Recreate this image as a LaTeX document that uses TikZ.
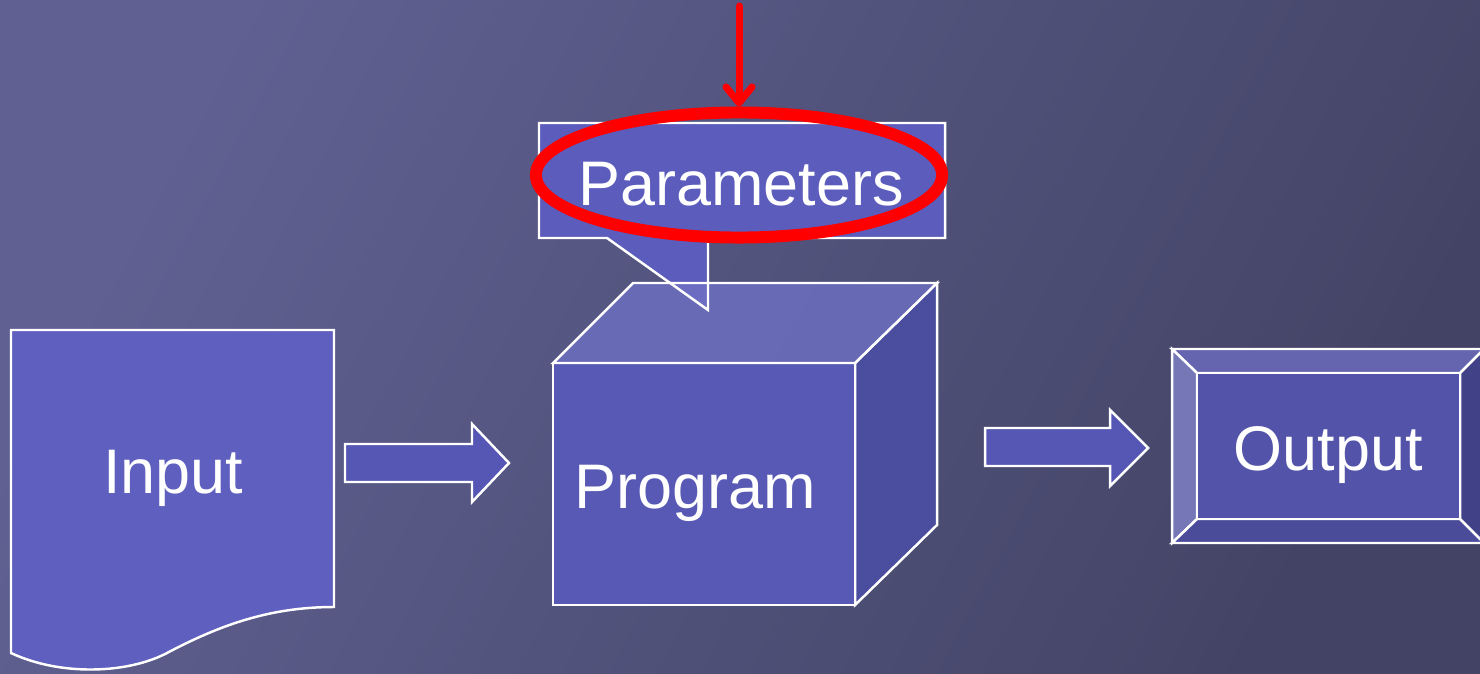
\documentclass[tikz,border=0pt]{standalone}
\usepackage{fontspec}
\setmainfont{Liberation Sans}
\usepackage{tikz}
\usetikzlibrary{shapes.geometric,arrows.meta}

\definecolor{slideTop}{HTML}{606192}
\definecolor{slideBot}{HTML}{434465}
\definecolor{docFill}{HTML}{5E5FBE}
\definecolor{arrowFill}{HTML}{5657B5}
\definecolor{cubeFront}{HTML}{5859B4}
\definecolor{cubeTop}{HTML}{6F70C4}
\definecolor{cubeSide}{HTML}{4B4D9F}
\definecolor{noteFill}{HTML}{5B5CBB}
\definecolor{bevelTop}{HTML}{6465AE}
\definecolor{bevelLeft}{HTML}{7677B6}
\definecolor{bevelBot}{HTML}{4B4C99}
\definecolor{bevelRight}{HTML}{404186}
\definecolor{bevelFace}{HTML}{5354A9}

\tikzset{
  outline/.style={draw=white, line width=0.7pt, line join=miter},
  slidetext/.style={text=white, font=\fontsize{17.9}{21}\selectfont, anchor=base, inner sep=0pt},
  ring/.style={ellipse, draw=red, line width=3.4pt, minimum width=4.06cm, minimum height=1.25cm, inner sep=0pt},
  redarrow/.style={draw=red, line width=2pt, line cap=round,
    -{Straight Barb[length=1.6mm,width=2.6mm,round]}}
}

\begin{document}
\begin{tikzpicture}[x=0.01cm, y=-0.01cm]

        %Background
        \shade [top color=slideTop, bottom color=slideBot, shading angle=62] (0,0) rectangle (1480,673);
        \useasboundingbox (0,0) rectangle (1480,673);
        \clip (0,0) rectangle (1480,673);

        %Input
        \draw [outline, fill=docFill] (11,330) -- (334,330) -- (334,607)
              .. controls (270,607) and (220,625) .. (167,653)
              .. controls (127,674) and (60,676) .. (11,653) -- cycle;
        \node [slidetext] (input) at (173,493) {Input};

        %Arrow to program
        \draw [outline, fill=arrowFill] (345,444) -- (472,444) -- (472,424) -- (509,463)
              -- (472,502) -- (472,482) -- (345,482) -- cycle;

        %Program
        \draw [outline, fill=cubeSide] (855,363) -- (937,283) -- (937,525) -- (855,605) -- cycle;
        \draw [outline, fill=cubeFront] (553,363) rectangle (855,605);
        \fill [noteFill] (539,123) -- (945,123) -- (945,238) -- (708,238) -- (708,310)
              -- (607,238) -- (539,238) -- cycle;
        \draw [outline, fill=cubeTop, fill opacity=0.8] (553,363) -- (633,283) -- (937,283) -- (855,363) -- cycle;
        \node [slidetext] (program) at (695,508) {Program};

        %Parameters
        \draw [outline] (539,123) -- (945,123) -- (945,238) -- (708,238) -- (708,310)
              -- (607,238) -- (539,238) -- cycle;
        \node [slidetext] (params) at (741,205) {Parameters};

        %Arrow to output
        \draw [outline, fill=arrowFill] (985,428) -- (1110,428) -- (1110,410) -- (1148,448)
              -- (1110,486) -- (1110,466) -- (985,466) -- cycle;

        %Output
        \draw [outline, fill=bevelTop] (1172,349) -- (1484,349) -- (1460,373) -- (1197,373) -- cycle;
        \draw [outline, fill=bevelLeft] (1172,349) -- (1197,373) -- (1197,519) -- (1172,543) -- cycle;
        \draw [outline, fill=bevelBot] (1172,543) -- (1197,519) -- (1460,519) -- (1484,543) -- cycle;
        \draw [outline, fill=bevelRight] (1484,349) -- (1460,373) -- (1460,519) -- (1484,543) -- cycle;
        \draw [outline, fill=bevelFace] (1197,373) rectangle (1460,519);
        \node [slidetext] (output) at (1328,470) {Output};

        %Highlight
        \node [ring] (mark) at (739,175) {};
        \coordinate (feed) at (739,6);
        \draw [redarrow] (feed) -- (mark.north);

\end{tikzpicture}
\end{document}
